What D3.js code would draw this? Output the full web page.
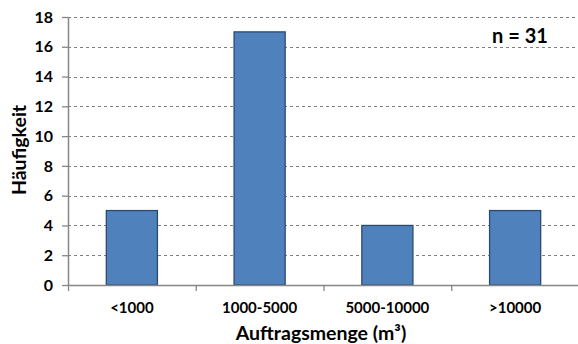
<!DOCTYPE html>
<html><head><meta charset="utf-8">
<script src="https://cdn.jsdelivr.net/npm/d3@7"></script>
<style>body{margin:0;background:#fff}svg{display:block}text{font-family:Lato,"Open Sans",sans-serif;font-weight:bold;fill:#000}</style>
</head><body>
<svg id="c" width="578" height="344"></svg>
<script>
const categories = ["<1000","1000-5000","5000-10000",">10000"];
const values = [5,17,4,5];
const yTicks = [0,2,4,6,8,10,12,14,16,18];
const xTitle = "Auftragsmenge (m³)";
const yTitle = "Häufigkeit";
const note = "n = 31";

const svg = d3.select("#c");
const m = {l:68, r:-1, t:17, b:59};
const W = 578, H = 344;
const x = d3.scaleBand().domain(categories).range([m.l, W - m.r]).paddingInner(0.6).paddingOuter(0.3);
const y = d3.scaleLinear().domain([0,18]).range([H - m.b, m.t]);

// gridlines
svg.append("g").selectAll("line").data(yTicks.filter(d=>d>0)).join("line")
  .attr("x1", m.l).attr("x2", W).attr("y1", d=>Math.round(y(d))+0.5).attr("y2", d=>Math.round(y(d))+0.5)
  .attr("stroke","#7f7f7f").attr("stroke-width",1).attr("stroke-dasharray","3,3");

// bars
svg.append("g").selectAll("rect").data(values).join("rect")
  .attr("x",(d,i)=>x(categories[i])).attr("width",x.bandwidth())
  .attr("y",d=>y(d)).attr("height",d=>y(0)-y(d))
  .attr("fill","#4f81bd").attr("stroke","#2c4a70").attr("stroke-width",1.3);

// y axis
const ya = svg.append("g").attr("transform",`translate(${m.l},0)`)
  .call(d3.axisLeft(y).tickValues(yTicks).tickSize(6).tickPadding(9).tickFormat(d3.format("d")));
ya.select(".domain").attr("stroke","#868686").attr("stroke-width",1.5).attr("d",`M0.5,${y(18)}V${y(0)}`);
ya.selectAll(".tick line").attr("stroke","#868686").attr("stroke-width",1.3);
ya.selectAll(".tick text").style("font-size","16px").style("font-family","Lato,sans-serif").style("font-weight","bold").attr("fill","#000");

// x axis
const bounds = [0,1,2,3,4].map(i=>m.l + i*(W - m.r - m.l)/4);
const xg = svg.append("g");
xg.append("line").attr("x1",m.l).attr("x2",W).attr("y1",y(0)+0.5).attr("y2",y(0)+0.5).attr("stroke","#868686").attr("stroke-width",1.5);
xg.selectAll("line.t").data(bounds).join("line").attr("class","t")
  .attr("x1",d=>d+0.5).attr("x2",d=>d+0.5).attr("y1",y(0)).attr("y2",y(0)+6).attr("stroke","#868686").attr("stroke-width",1.3);
xg.selectAll("text").data(categories).join("text")
  .attr("x",d=>x(d)+x.bandwidth()/2).attr("y",y(0)+28).attr("text-anchor","middle")
  .style("font-size","15px").text(d=>d);

// titles
svg.append("text").attr("x",(m.l+W)/2 - 2).attr("y",340).attr("text-anchor","middle").style("font-size","19.5px").text(xTitle);
svg.append("text").attr("transform","translate(26,150) rotate(-90)").attr("text-anchor","middle").style("font-size","19.5px").text(yTitle);
svg.append("text").attr("x",520).attr("y",43).attr("text-anchor","middle").style("font-size","20px").text(note);
</script>
</body></html>
